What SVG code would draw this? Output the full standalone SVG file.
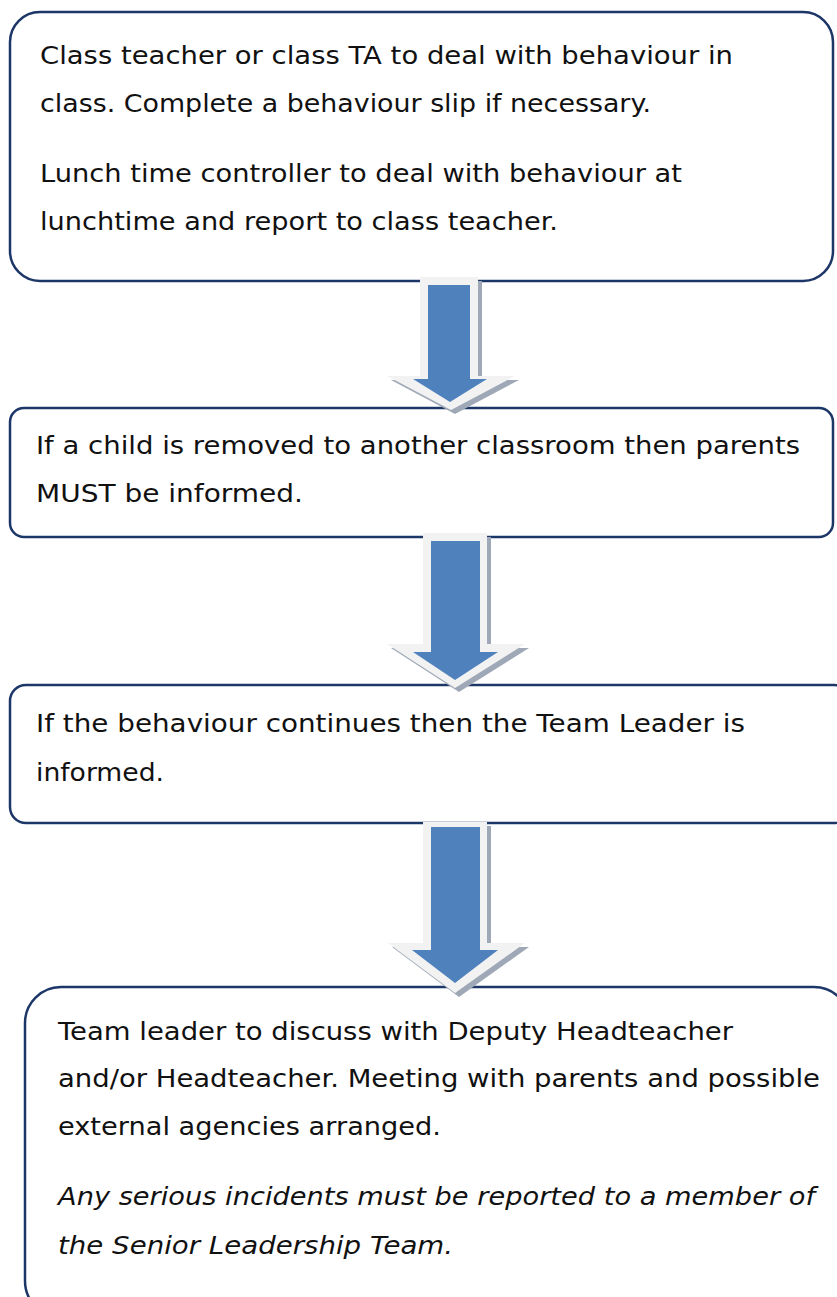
<svg xmlns="http://www.w3.org/2000/svg" width="837" height="1297" viewBox="0 0 837 1297">
  <defs>
    <style>
      .box { fill: #ffffff; stroke: #1c3668; stroke-width: 2.5; }
      .txt { font-family: "DejaVu Sans", "Noto Sans", sans-serif; font-size: 25px; fill: #111111; }
      .ital { font-style: italic; }
      .shadow { fill: #9ea8b6; }
      .rim { fill: #f2f2f2; }
      .core { fill: #4f81bd; }
    </style>
  </defs>

  <!-- Step boxes -->
  <g id="step1">
    <rect class="box" x="10" y="12" width="823" height="269" rx="30" ry="30"/>
    <text class="txt" x="40" y="64" textLength="693" lengthAdjust="spacingAndGlyphs">Class teacher or class TA to deal with behaviour in</text>
    <text class="txt" x="40" y="112" textLength="611" lengthAdjust="spacingAndGlyphs">class. Complete a behaviour slip if necessary.</text>
    <text class="txt" x="40" y="182" textLength="642" lengthAdjust="spacingAndGlyphs">Lunch time controller to deal with behaviour at</text>
    <text class="txt" x="40" y="230" textLength="518" lengthAdjust="spacingAndGlyphs">lunchtime and report to class teacher.</text>
  </g>

  <g id="step2">
    <rect class="box" x="10" y="408" width="823" height="129" rx="14" ry="14"/>
    <text class="txt" x="36" y="454" textLength="764" lengthAdjust="spacingAndGlyphs">If a child is removed to another classroom then parents</text>
    <text class="txt" x="36" y="502" textLength="267" lengthAdjust="spacingAndGlyphs">MUST be informed.</text>
  </g>

  <g id="step3">
    <rect class="box" x="10" y="685" width="840" height="138" rx="16" ry="16"/>
    <text class="txt" x="36" y="732" textLength="709" lengthAdjust="spacingAndGlyphs">If the behaviour continues then the Team Leader is</text>
    <text class="txt" x="36" y="781" textLength="128" lengthAdjust="spacingAndGlyphs">informed.</text>
  </g>

  <g id="step4">
    <rect class="box" x="25" y="987" width="825" height="330" rx="36" ry="36"/>
    <text class="txt" x="58" y="1040" textLength="675" lengthAdjust="spacingAndGlyphs">Team leader to discuss with Deputy Headteacher</text>
    <text class="txt" x="58" y="1087" textLength="762" lengthAdjust="spacingAndGlyphs">and/or Headteacher. Meeting with parents and possible</text>
    <text class="txt" x="58" y="1135" textLength="383" lengthAdjust="spacingAndGlyphs">external agencies arranged.</text>
    <text class="txt ital" x="58" y="1205" textLength="757" lengthAdjust="spacingAndGlyphs">Any serious incidents must be reported to a member of</text>
    <text class="txt ital" x="58" y="1254" textLength="395" lengthAdjust="spacingAndGlyphs">the Senior Leadership Team.</text>
  </g>

  <!-- Down arrows between steps -->
  <g id="connectors">
    <g id="arrow1">
      <polygon class="shadow" points="424,281 482,281 482,380 519,380 455,414 391,380 424,380"/>
      <polygon class="rim" points="420,277 478,277 478,376 515,376 451,410 387,376 420,376"/>
      <polygon class="core" points="428,285 470,285 470,379 487,379 450,402 413,379 428,379"/>
    </g>
    <g id="arrow2">
      <polygon class="shadow" points="427,537 491,537 491,648 529,648 459,692 391,648 427,648"/>
      <polygon class="rim" points="423,533 487,533 487,644 525,644 455,688 387,644 423,644"/>
      <polygon class="core" points="431,541 480,541 480,652 498,652 455,680 413,652 431,652"/>
    </g>
    <g id="arrow3">
      <polygon class="shadow" points="427,826 491,826 491,947 529,947 459,997 392,947 427,947"/>
      <polygon class="rim" points="423,822 487,822 487,943 525,943 455,993 388,943 423,943"/>
      <polygon class="core" points="431,827 480,827 480,950 498,950 455,983 412,950 431,950"/>
    </g>
  </g>
</svg>
